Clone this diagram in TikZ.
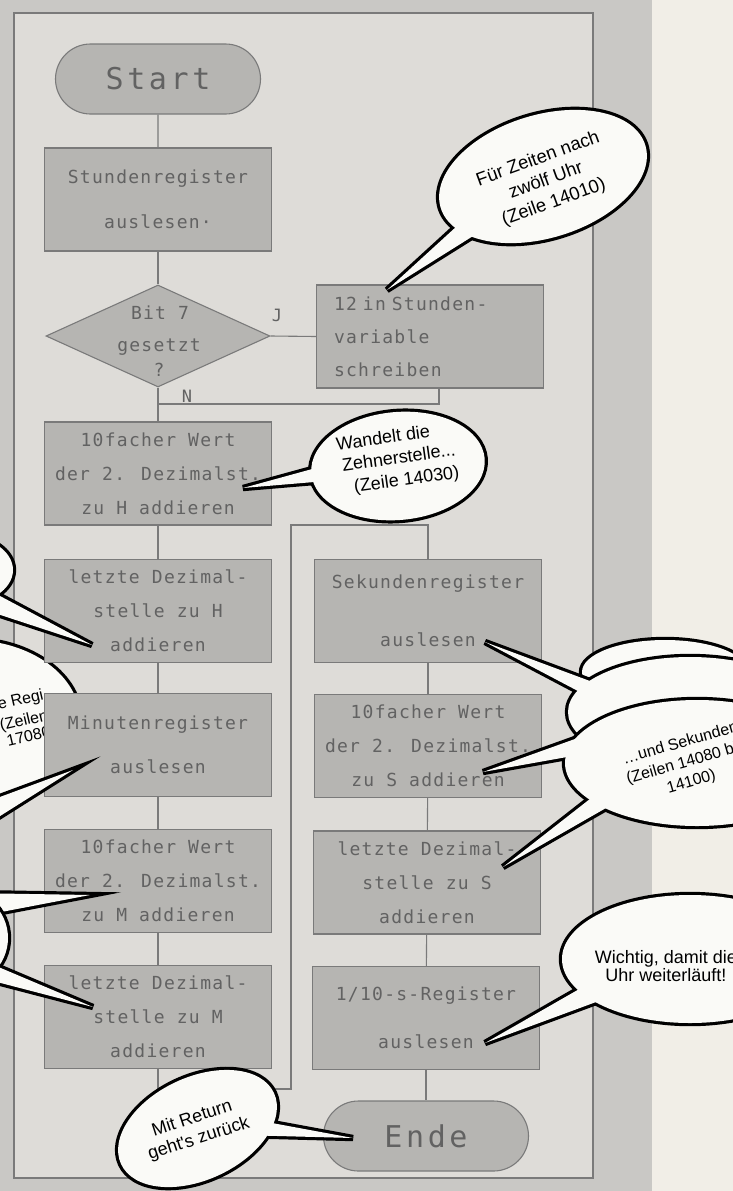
\documentclass[tikz,border=0pt]{standalone}
\usepackage{fontspec}
\newfontfamily\plotfont[LetterSpace=7]{DejaVu Sans Mono}
\newfontfamily\bigplotfont[LetterSpace=12]{DejaVu Sans Mono}
\newfontfamily\bubfont{Liberation Sans}
\usetikzlibrary{shapes.geometric,shapes.misc}
\definecolor{outergray}{HTML}{C9C8C5}
\definecolor{innergray}{HTML}{DEDCD8}
\definecolor{paper}{HTML}{F1EEE7}
\definecolor{boxfill}{HTML}{B6B5B2}
\definecolor{boxline}{HTML}{7A7A7A}
\definecolor{boxtext}{HTML}{626262}
\definecolor{bubfill}{HTML}{FAFAF7}
\begin{document}
\begin{tikzpicture}[x=1pt,y=-1pt,
  box/.style={rectangle, draw=boxline, fill=boxfill, line width=1.1pt,
    minimum width=227, minimum height=103, inner sep=0pt, text=boxtext,
    align=center, font=\plotfont\fontsize{18}{34}\selectfont},
  term/.style={rounded rectangle, draw=boxline, fill=boxfill, line width=1.1pt,
    minimum width=205, minimum height=70, inner sep=0pt, text=boxtext,
    font=\bigplotfont\fontsize{30}{36}\selectfont},
  decbox/.style={diamond, draw=boxline, fill=boxfill, line width=1.1pt,
    minimum width=224, minimum height=102, inner sep=0pt},
  dectext/.style={text=boxtext, inner sep=0pt, font=\plotfont\fontsize{18}{24}\selectfont},
  conn/.style={draw=boxline, line width=1.1pt},
  lbl/.style={text=boxtext, inner sep=0pt, font=\plotfont\fontsize{17}{20}\selectfont},
  bubout/.style={draw=black, line width=6.4pt},
  bubin/.style={fill=bubfill},
  bubtext/.style={text=black, inner sep=0pt, align=center,
    font=\bubfont\fontsize{18}{22}\selectfont},
]
\useasboundingbox (0,0) rectangle (733,1191);
\clip (0,0) rectangle (733,1191);

% ---------- background ----------
\fill[paper] (0,0) rectangle (733,1191);
\fill[outergray] (0,0) rectangle (652,1191);
\fill[innergray] (14,13) rectangle (593,1178);
\draw[boxline, line width=1.1pt] (14,13) rectangle (593,1178);

% ---------- left bubble lying under the boxes ----------
\draw[bubout] (-30,720) ellipse [x radius=110, y radius=80];
\fill[bubin] (-30,720) ellipse [x radius=110, y radius=80];
\node[bubtext, font=\bubfont\fontsize{16}{20}\selectfont, rotate=13, anchor=west] (l2a) at (-2,706) {e Regi};
\node[bubtext, font=\bubfont\fontsize{16}{20}\selectfont, rotate=13, anchor=west] (l2b) at (0,727) {(Zeilen};
\node[bubtext, font=\bubfont\fontsize{16}{20}\selectfont, rotate=13, anchor=west] (l2c) at (7,743) {17080)};

% ---------- flowchart nodes ----------
\node[term] (start) at (158,79) {Start};
\node[box, font=\plotfont\fontsize{18}{45}\selectfont] (A) at (158,199.5) {Stundenregister\\auslesen·};
\node[decbox] (dec) at (158,336) {};
\node[dectext] (dec1) at (160,313) {Bit 7};
\node[dectext] (dec2) at (159,347) {gesetzt};
\node[dectext] (dec3) at (159,370) {?};
\node[box, align=left, text width=192, font=\plotfont\fontsize{18}{33}\selectfont] (B) at (430,336.5) {12 in Stunden-\\variable\\schreiben};
\node[box] (C) at (158,473.5) {10facher Wert\\der 2. Dezimalst.\\zu H addieren};
\node[box] (D) at (158,611) {letzte Dezimal-\\stelle zu H\\addieren};
\node[box, font=\plotfont\fontsize{18}{44}\selectfont] (E) at (158,745) {Minutenregister\\auslesen};
\node[box] (F) at (158,881) {10facher Wert\\der 2. Dezimalst.\\zu M addieren};
\node[box] (G) at (158,1017) {letzte Dezimal-\\stelle zu M\\addieren};
\node[box, font=\plotfont\fontsize{18}{58}\selectfont] (H) at (428,611) {Sekundenregister\\auslesen};
\node[box] (I) at (428,746) {10facher Wert\\der 2. Dezimalst.\\zu S addieren};
\node[box] (J) at (427,882.5) {letzte Dezimal-\\stelle zu S\\addieren};
\node[box, font=\plotfont\fontsize{18}{48}\selectfont] (K) at (426,1018) {1/10-s-Register\\auslesen};
\node[term] (ende) at (426,1136) {Ende};

% ---------- connectors ----------
\coordinate (bj) at (439,404);
\coordinate (lp1) at (291,1089);
\coordinate (lp2) at (291,525);
\draw[conn] (start) -- (A);
\draw[conn] (A) -- (dec);
\draw[conn] (dec.east) -- (B.west);
\draw[conn] (B.south -| bj) -- (bj) -- (bj -| dec.south);
\draw[conn] (dec.south) -- (C.north);
\draw[conn] (C) -- (D);
\draw[conn] (D) -- (E);
\draw[conn] (E) -- (F);
\draw[conn] (F) -- (G);
\draw[conn] (G.south) |- (lp1) -- (lp2) -| (H.north);
\draw[conn] (H) -- (I);
\draw[conn] (I) -- (J);
\draw[conn] (J) -- (K);
\draw[conn] (K) -- (ende);
\node[lbl] (labJ) at (277,315) {J};
\node[lbl] (labN) at (187,396) {N};

% ---------- left bubbles (cut by the edge) ----------
\draw[bubout] (-40,570) ellipse [x radius=53, y radius=35];
\draw[bubout] (-30,580) -- (92,645) -- (-30,605) -- cycle;
\fill[bubin] (-40,570) ellipse [x radius=53, y radius=35];
\fill[bubin] (-30,580) -- (92,645) -- (-30,605) -- cycle;
\draw[bubout] (-30,808) -- (73,770) -- (-30,835) -- cycle;
\fill[bubin] (-30,808) -- (73,770) -- (-30,835) -- cycle;
\draw[bubout] (-30,893) -- (90,895) -- (-30,918) -- cycle;
\fill[bubin] (-30,893) -- (90,895) -- (-30,918) -- cycle;
\draw[bubout] (-45,938) ellipse [x radius=53, y radius=50];
\draw[bubout] (-30,955) -- (93,1007) -- (-30,975) -- cycle;
\fill[bubin] (-45,938) ellipse [x radius=53, y radius=50];
\fill[bubin] (-30,955) -- (93,1007) -- (-30,975) -- cycle;

% ---------- bubble 1 ----------
\coordinate (b1c) at (543,176.5);
\draw[bubout, rotate around={17:(b1c)}] (b1c) ellipse [x radius=107, y radius=61.5];
\draw[bubout] (480,205) -- (387,290) -- (505,216) -- cycle;
\fill[bubin, rotate around={17:(b1c)}] (b1c) ellipse [x radius=107, y radius=61.5];
\fill[bubin] (480,205) -- (387,290) -- (505,216) -- cycle;
\node[bubtext, rotate=20, font=\bubfont\fontsize{18.5}{23}\selectfont] (b1t) at (546,181) {Für Zeiten nach\\zwölf Uhr\\(Zeile 14010)};

% ---------- bubble 2 ----------
\coordinate (b2c) at (398,466);
\draw[bubout, rotate around={5:(b2c)}] (b2c) ellipse [x radius=87, y radius=54];
\draw[bubout] (345,460) -- (243,488) -- (350,479) -- cycle;
\fill[bubin, rotate around={5:(b2c)}] (b2c) ellipse [x radius=87, y radius=54];
\fill[bubin] (345,460) -- (243,488) -- (350,479) -- cycle;
\node[bubtext, rotate=8, anchor=west] (b2a) at (336,444) {Wandelt die};
\node[bubtext, rotate=8, anchor=west] (b2b) at (342,465) {Zehnerstelle...};
\node[bubtext, rotate=8, anchor=west] (b2d) at (354,488) {(Zeile 14030)};

% ---------- seconds cloud ----------
\draw[bubout] (665,672) ellipse [x radius=83, y radius=32];
\fill[bubin] (665,672) ellipse [x radius=83, y radius=32];
\draw[bubout] (690,712) ellipse [x radius=122, y radius=55];
\draw[bubout] (598,684) -- (485,642) -- (595,700) -- cycle;
\fill[bubin] (690,712) ellipse [x radius=122, y radius=55];
\fill[bubin] (598,684) -- (485,642) -- (595,700) -- cycle;
\draw[bubout] (697,763) ellipse [x radius=132, y radius=63];
\draw[bubout] (600,730) -- (483,772) -- (595,752) -- cycle;
\draw[bubout] (595,795) -- (503,867) -- (620,800) -- cycle;
\fill[bubin] (697,763) ellipse [x radius=132, y radius=63];
\fill[bubin] (600,730) -- (483,772) -- (595,752) -- cycle;
\fill[bubin] (595,795) -- (503,867) -- (620,800) -- cycle;
\node[bubtext, rotate=16, font=\bubfont\fontsize{16}{20}\selectfont] (b3t) at (686,763) {…und Sekunden\\(Zeilen 14080 bis\\14100)};

% ---------- Wichtig bubble ----------
\draw[bubout] (690,959) ellipse [x radius=128, y radius=64];
\draw[bubout] (595,980) -- (485,1043) -- (615,995) -- cycle;
\fill[bubin] (690,959) ellipse [x radius=128, y radius=64];
\fill[bubin] (595,980) -- (485,1043) -- (615,995) -- cycle;
\node[bubtext, font=\bubfont\fontsize{18}{18.5}\selectfont] (b4t) at (666,966) {Wichtig, damit die\\Uhr weiterläuft!};

% ---------- return bubble ----------
\coordinate (b5c) at (197.5,1128.5);
\draw[bubout, rotate around={25:(b5c)}] (b5c) ellipse [x radius=84.3, y radius=51.3];
\draw[bubout] (245,1118) -- (353,1138) -- (240,1135) -- cycle;
\fill[bubin, rotate around={25:(b5c)}] (b5c) ellipse [x radius=84.3, y radius=51.3];
\fill[bubin] (245,1118) -- (353,1138) -- (240,1135) -- cycle;
\node[bubtext, rotate=18, font=\bubfont\fontsize{18}{21.5}\selectfont] (b5t) at (195.5,1129) {Mit Return\\geht's zurück};
\end{tikzpicture}
\end{document}
